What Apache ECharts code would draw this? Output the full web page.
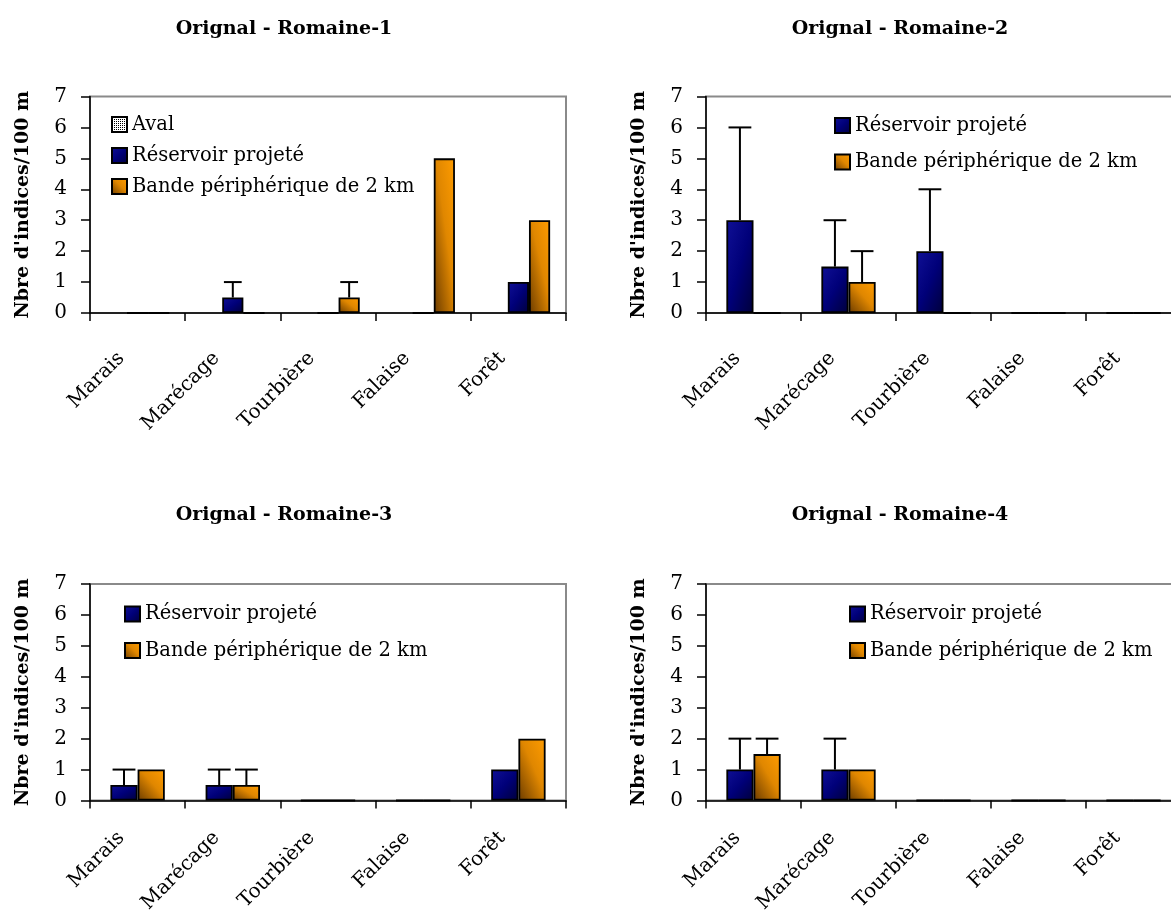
<!DOCTYPE html>
<html>
<head>
<meta charset="utf-8">
<script src="https://cdn.jsdelivr.net/npm/echarts@6/dist/echarts.min.js"></script>
<style>
  html, body { margin: 0; padding: 0; background: #ffffff; }
  #chart { width: 1171px; height: 911px; }
</style>
</head>
<body>
<div id="chart"></div>
<script>
// ---- Data -------------------------------------------------------------
const categories = ['Marais', 'Marécage', 'Tourbière', 'Falaise', 'Forêt'];
const titles = ['Orignal - Romaine-1', 'Orignal - Romaine-2', 'Orignal - Romaine-3', 'Orignal - Romaine-4'];
const seriesNames = ['Aval', 'Réservoir projeté', 'Bande périphérique de 2 km'];
const yAxisName = "Nbre d'indices/100 m";
const yMin = 0, yMax = 7, yStep = 1;

// Romaine-1
const aval1 = [null, null, null, null, null];
const reservoir1 = [0, 0.5, 0, 0, 1];
const bande1 = [0, 0, 0.5, 5, 3];
const reservoirErr1 = [null, 0.5, null, null, null];
const bandeErr1 = [null, null, 0.5, null, null];

// Romaine-2
const reservoir2 = [3, 1.5, 2, 0, 0];
const bande2 = [0, 1, 0, 0, 0];
const reservoirErr2 = [3, 1.5, 2, null, null];
const bandeErr2 = [null, 1, null, null, null];

// Romaine-3
const reservoir3 = [0.5, 0.5, 0, 0, 1];
const bande3 = [1, 0.5, 0, 0, 2];
const reservoirErr3 = [0.5, 0.5, null, null, null];
const bandeErr3 = [null, 0.5, null, null, null];

// Romaine-4
const reservoir4 = [1, 1, 0, 0, 0];
const bande4 = [1.5, 1, 0, 0, 0];
const reservoirErr4 = [1, 1, null, null, null];
const bandeErr4 = [0.5, null, null, null, null];

// ---- Layout -----------------------------------------------------------
const FONT = 'DejaVu Serif';
const GAP_RATIO = 1.5; // space between clusters, in bar widths

const panels = [
  {
    title: titles[0], titleX: 284, titleY: 20, labelMargin: 26,
    grid: { left: 90, top: 96.5, width: 476, height: 216.5 },
    legend: { left: 111, top: 114.5, itemGap: 11 },
    series: [
      { name: seriesNames[0], kind: 'aval', values: aval1, err: null },
      { name: seriesNames[1], kind: 'blue', values: reservoir1, err: reservoirErr1 },
      { name: seriesNames[2], kind: 'orange', values: bande1, err: bandeErr1 }
    ]
  },
  {
    title: titles[1], titleX: 900, titleY: 20, labelMargin: 26,
    grid: { left: 706, top: 96.5, width: 475, height: 216.5 },
    legend: { left: 834, top: 115.5, itemGap: 16.5 },
    series: [
      { name: seriesNames[1], kind: 'blue', values: reservoir2, err: reservoirErr2 },
      { name: seriesNames[2], kind: 'orange', values: bande2, err: bandeErr2 }
    ]
  },
  {
    title: titles[2], titleX: 284, titleY: 506, labelMargin: 18,
    grid: { left: 90, top: 584, width: 476, height: 216.5 },
    legend: { left: 124, top: 604, itemGap: 16.5 },
    series: [
      { name: seriesNames[1], kind: 'blue', values: reservoir3, err: reservoirErr3 },
      { name: seriesNames[2], kind: 'orange', values: bande3, err: bandeErr3 }
    ]
  },
  {
    title: titles[3], titleX: 900, titleY: 506, labelMargin: 18,
    grid: { left: 706, top: 584, width: 475, height: 216.5 },
    legend: { left: 849, top: 604, itemGap: 16.5 },
    series: [
      { name: seriesNames[1], kind: 'blue', values: reservoir4, err: reservoirErr4 },
      { name: seriesNames[2], kind: 'orange', values: bande4, err: bandeErr4 }
    ]
  }
];

// ---- Fills ------------------------------------------------------------
// Stippled fill for the "Aval" series.
function stipplePattern() {
  const c = document.createElement('canvas');
  c.width = 2; c.height = 2;
  const g = c.getContext('2d');
  g.fillStyle = '#ffffff';
  g.fillRect(0, 0, 2, 2);
  g.fillStyle = '#000000';
  g.fillRect(0, 0, 1, 1);
  return { image: c, repeat: 'repeat' };
}

// Corner-to-corner gradients whose colour bands run along the bar's diagonal.
function barGradient(kind, w, h) {
  const d = h * h + w * w;
  if (kind === 'blue') {
    // light at top-left, dark at bottom-right
    return new echarts.graphic.LinearGradient(0, 0, 2 * h * h / d, 2 * w * w / d, [
      { offset: 0, color: '#101096' },
      { offset: 0.5, color: '#000079' },
      { offset: 1, color: '#00003a' }
    ]);
  }
  // dark brown at bottom-left, bright orange at top-right
  return new echarts.graphic.LinearGradient(0, 1, 2 * h * h / d, 1 - 2 * w * w / d, [
    { offset: 0, color: '#6a3b00' },
    { offset: 0.55, color: '#e08700' },
    { offset: 1, color: '#ff9c00' }
  ]);
}

// ---- Option -----------------------------------------------------------
const option = {
  backgroundColor: '#ffffff',
  animation: false,
  title: [], grid: [], xAxis: [], yAxis: [], legend: [], series: []
};

panels.forEach((p, gi) => {
  const n = p.series.length;
  const catW = p.grid.width / categories.length;
  const barW = catW / (n + GAP_RATIO);

  option.title.push({
    text: p.title, left: p.titleX, top: p.titleY, textAlign: 'center', padding: 0,
    textStyle: { fontFamily: FONT, fontWeight: 'bold', fontSize: 19, color: '#000' }
  });

  option.grid.push(Object.assign({
    show: true, borderColor: '#8a8a8a', borderWidth: 2, backgroundColor: 'transparent',
    containLabel: false, outerBoundsMode: 'none'
  }, p.grid));

  option.xAxis.push({
    type: 'category', gridIndex: gi, data: categories,
    axisLine: { show: true, lineStyle: { color: '#000', width: 1.5 } },
    axisTick: { show: true, length: 8, alignWithLabel: false, lineStyle: { color: '#000', width: 1.5 } },
    axisLabel: {
      interval: 0, rotate: 45, margin: p.labelMargin, padding: [0, 23, 0, 0], color: '#000',
      fontFamily: FONT, fontSize: 20
    },
    splitLine: { show: false }
  });

  option.yAxis.push({
    type: 'value', gridIndex: gi, min: yMin, max: yMax, interval: yStep,
    name: yAxisName, nameLocation: 'middle', nameGap: 57,
    nameTextStyle: { fontFamily: FONT, fontWeight: 'bold', fontSize: 19, color: '#000' },
    axisLine: { show: true, lineStyle: { color: '#000', width: 1.5 } },
    axisTick: { show: true, length: 9, lineStyle: { color: '#000', width: 1.5 } },
    axisLabel: { margin: 23, color: '#000', fontFamily: FONT, fontSize: 20 },
    splitLine: { show: false }
  });

  option.legend.push({
    left: p.legend.left, top: p.legend.top, orient: 'vertical', itemGap: p.legend.itemGap,
    itemWidth: 15, itemHeight: 15, selectedMode: false, padding: 0,
    data: p.series.map(s => ({ name: s.name, icon: 'rect' })),
    textStyle: { fontFamily: FONT, fontSize: 19.5, color: '#000' }
  });

  p.series.forEach((s, si) => {
    const baseColor = s.kind === 'aval' ? stipplePattern() : barGradient(s.kind, 1, 1);
    const bar = {
      type: 'bar', name: s.name, xAxisIndex: gi, yAxisIndex: gi,
      barGap: '0%', barCategoryGap: (GAP_RATIO / (n + GAP_RATIO) * 100) + '%',
      itemStyle: { color: baseColor, borderColor: '#000', borderWidth: 1.8 },
      emphasis: { disabled: true },
      data: s.values.map(v => {
        if (v == null) return null;
        if (s.kind === 'aval' || v === 0) return v;
        const h = (v - yMin) / (yMax - yMin) * p.grid.height;
        return { value: v, itemStyle: { color: barGradient(s.kind, barW, h) } };
      })
    };
    option.series.push(bar);

    if (s.err) {
      const data = [];
      s.err.forEach((e, i) => { if (e != null) data.push([i, s.values[i], e]); });
      option.series.push({
        type: 'custom', xAxisIndex: gi, yAxisIndex: gi, z: 5, silent: true,
        encode: { x: 0, y: 1 },
        data: data,
        renderItem: (params, api) => {
          const i = api.value(0), v = api.value(1), e = api.value(2);
          const cx = api.coord([i, 0])[0];
          const cw = api.size([1, 0])[0];
          const b = cw / (n + GAP_RATIO);
          const x = cx - n * b / 2 + b * (si + 0.5);
          const y0 = api.coord([i, v])[1];
          const y1 = api.coord([i, v + e])[1];
          const half = b * 0.42;
          const st = { stroke: '#000', lineWidth: 2 };
          return {
            type: 'group',
            children: [
              { type: 'line', shape: { x1: x, y1: y0, x2: x, y2: y1 }, style: st },
              { type: 'line', shape: { x1: x - half, y1: y1, x2: x + half, y2: y1 }, style: st }
            ]
          };
        }
      });
    }
  });
});

const chart = echarts.init(document.getElementById('chart'), null, { renderer: 'canvas' });
chart.setOption(option);
</script>
</body>
</html>
